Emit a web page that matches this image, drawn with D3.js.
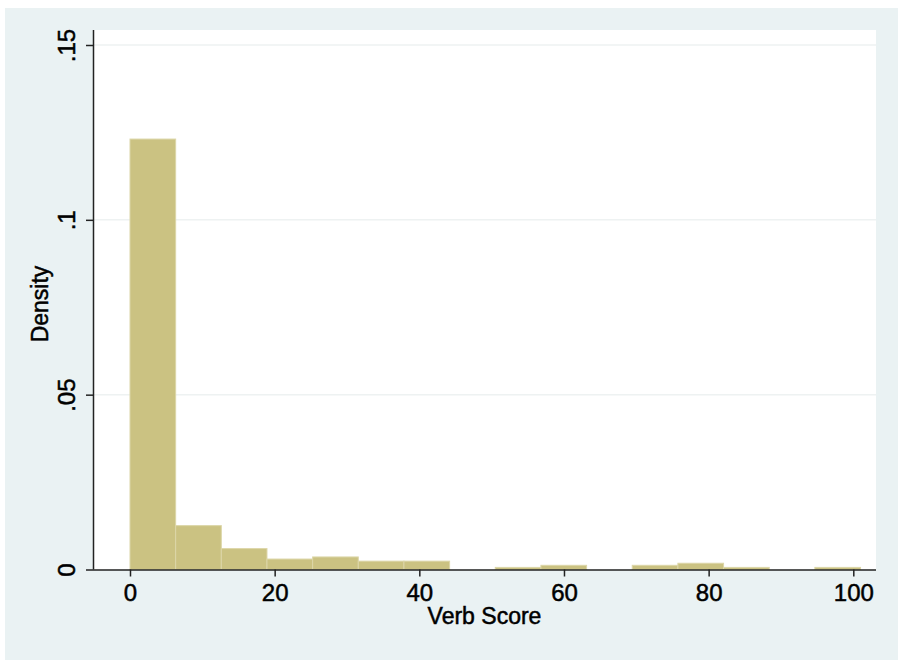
<!DOCTYPE html>
<html>
<head>
<meta charset="utf-8">
<script src="https://cdn.jsdelivr.net/npm/d3@7"></script>
<style>
  body { margin: 0; background: #ffffff; }
  svg { display: block; font-family: "Liberation Sans", Arial, Helvetica, sans-serif; }
</style>
</head>
<body>
<div id="chart"></div>
<script>
// histogram bins (Verb Score), 16 bins over 0..101
const binStarts = [0, 6.3125, 12.625, 18.9375, 25.25, 31.5625, 37.875, 44.1875,
                   50.5, 56.8125, 63.125, 69.4375, 75.75, 82.0625, 88.375, 94.6875];
const binWidth = 6.3125;
const densities = [0.1231, 0.01255, 0.00598, 0.00299, 0.00359, 0.00239, 0.00239, 0,
                   0.0006, 0.0012, 0, 0.0012, 0.00179, 0.0006, 0, 0.0006];
const xTicks = [0, 20, 40, 60, 80, 100];
const yTicks = [0, 0.05, 0.1, 0.15];
const yTickLabels = ['0', '.05', '.1', '.15'];

const width = 902;
const height = 666;
const bgColor = '#eaf2f3';
const barFill = '#cbc282';
const barStroke = '#dcd6a8';
const gridColor = '#eef2f2';
const axisColor = '#222222';
const tickFont = '24px';
const titleFont = '23px';

const plot = {left: 93, right: 876, top: 30, bottom: 569.5};

const svg = d3.select('#chart')
  .append('svg')
  .attr('width', width)
  .attr('height', height);

svg.append('rect')
  .attr('x', 5).attr('y', 8)
  .attr('width', 893).attr('height', 652)
  .attr('fill', bgColor);

svg.append('rect')
  .attr('x', plot.left).attr('y', plot.top)
  .attr('width', plot.right - plot.left)
  .attr('height', plot.bottom - plot.top)
  .attr('fill', '#ffffff');

const xScale = d3.scaleLinear().domain([0, 100]).range([130, 853.3]);
const yScale = d3.scaleLinear().domain([0, 0.15]).range([plot.bottom, 45]);

// gridlines
svg.append('g')
  .selectAll('line')
  .data(yTicks.slice(1))
  .join('line')
  .attr('x1', plot.left).attr('x2', plot.right)
  .attr('y1', d => yScale(d)).attr('y2', d => yScale(d))
  .attr('stroke', gridColor)
  .attr('stroke-width', 1.5);

// bars
svg.append('g')
  .selectAll('rect')
  .data(binStarts.map((s, i) => ({start: s, value: densities[i]})).filter(d => d.value > 0))
  .join('rect')
  .attr('x', d => xScale(d.start))
  .attr('width', d => xScale(d.start + binWidth) - xScale(d.start))
  .attr('y', d => yScale(d.value))
  .attr('height', d => yScale(0) - yScale(d.value))
  .attr('fill', barFill)
  .attr('stroke', barStroke)
  .attr('stroke-width', 1);

// x axis
const xAxis = d3.axisBottom(xScale).tickValues(xTicks).tickSize(7).tickPadding(7).tickFormat(d3.format('d'));
const xAxisEl = svg.append('g')
  .attr('transform', `translate(0, ${plot.bottom})`)
  .call(xAxis);
xAxisEl.select('.domain').attr('d', `M${plot.left},0.5H${plot.right}`).attr('stroke', axisColor).attr('stroke-width', 1.5);
xAxisEl.selectAll('line').attr('stroke', axisColor).attr('stroke-width', 1.5);
xAxisEl.selectAll('text')
  .attr('fill', '#000')
  .attr('stroke', '#000').attr('stroke-width', 0.5)
  .attr('font-size', tickFont)
  .attr('font-family', '"Liberation Sans", Arial, sans-serif');

// y axis
const yAxis = d3.axisLeft(yScale).tickValues(yTicks).tickSize(7).tickFormat((d, i) => yTickLabels[i]);
const yAxisEl = svg.append('g')
  .attr('transform', `translate(${plot.left}, 0)`)
  .call(yAxis);
yAxisEl.select('.domain').attr('d', `M0.5,${plot.top}V${plot.bottom}`).attr('stroke', axisColor).attr('stroke-width', 1.5);
yAxisEl.selectAll('line').attr('stroke', axisColor).attr('stroke-width', 1.5);
yAxisEl.selectAll('text')
  .attr('fill', '#000')
  .attr('stroke', '#000').attr('stroke-width', 0.5)
  .attr('font-size', tickFont)
  .attr('font-family', '"Liberation Sans", Arial, sans-serif')
  .attr('x', null)
  .attr('text-anchor', 'middle')
  .attr('transform', 'translate(-18, 0) rotate(-90)')
  .attr('dy', '0em');

// axis titles
svg.append('text')
  .attr('x', (plot.left + plot.right) / 2)
  .attr('y', 624)
  .attr('text-anchor', 'middle')
  .attr('font-size', titleFont)
  .attr('fill', '#000')
  .attr('stroke', '#000').attr('stroke-width', 0.5)
  .text('Verb Score');

svg.append('text')
  .attr('transform', 'translate(48, 304) rotate(-90)')
  .attr('text-anchor', 'middle')
  .attr('font-size', titleFont)
  .attr('fill', '#000')
  .attr('stroke', '#000').attr('stroke-width', 0.5)
  .text('Density');
</script>
</body>
</html>
